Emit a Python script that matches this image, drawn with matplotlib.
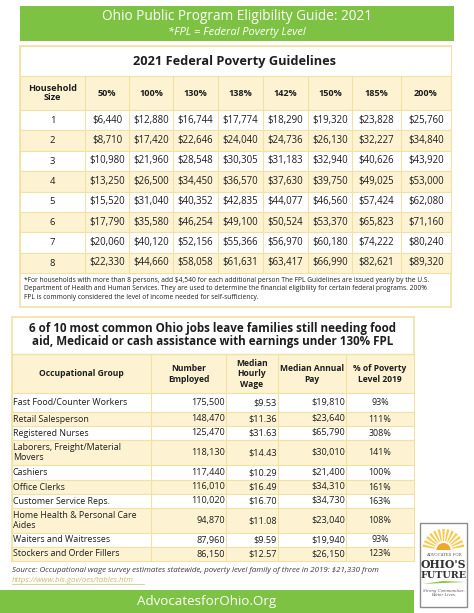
import matplotlib
matplotlib.use("Agg")
import matplotlib.pyplot as plt
from matplotlib.patches import Rectangle, Wedge, Polygon

plt.rcParams['font.family'] = ['Open Sans', 'DejaVu Sans']

# ---- data ----
household_size = [1, 2, 3, 4, 5, 6, 7, 8]
fpl_levels = ['50%', '100%', '130%', '138%', '142%', '150%', '185%', '200%']
fpl_50 = [6440, 8710, 10980, 13250, 15520, 17790, 20060, 22330]
fpl_100 = [12880, 17420, 21960, 26500, 31040, 35580, 40120, 44660]
fpl_130 = [16744, 22646, 28548, 34450, 40352, 46254, 52156, 58058]
fpl_138 = [17774, 24040, 30305, 36570, 42835, 49100, 55366, 61631]
fpl_142 = [18290, 24736, 31183, 37630, 44077, 50524, 56970, 63417]
fpl_150 = [19320, 26130, 32940, 39750, 46560, 53370, 60180, 66990]
fpl_185 = [23828, 32227, 40626, 49025, 57424, 65823, 74222, 82621]
fpl_200 = [25760, 34840, 43920, 53000, 62080, 71160, 80240, 89320]

jobs = ['Fast Food/Counter Workers', 'Retail Salesperson', 'Registered Nurses',
        'Laborers, Freight/Material\nMovers', 'Cashiers', 'Office Clerks',
        'Customer Service Reps.', 'Home Health & Personal Care\nAides',
        'Waiters and Waitresses', 'Stockers and Order Fillers']
employed = [175500, 148470, 125470, 118130, 117440, 116010, 110020, 94870, 87960, 86150]
hourly_wage = [9.53, 11.36, 31.63, 14.43, 10.29, 16.49, 16.70, 11.08, 9.59, 12.57]
annual_pay = [19810, 23640, 65790, 30010, 21400, 34310, 34730, 23040, 19940, 26150]
pct_poverty = [93, 111, 308, 141, 100, 161, 163, 108, 93, 123]

GREEN = '#7dc242'
CREAM = '#fdf3d3'
LINE = '#f0e2a4'
TXT = '#1e1e1e'

fig = plt.figure(figsize=(4.74, 6.13), dpi=100)
ax = fig.add_axes([0, 0, 1, 1])
ax.set_xlim(0, 474)
ax.set_ylim(613, 0)
ax.axis('off')


def box(x0, y0, x1, y1, fc, ec=LINE, lw=0.8, z=1):
    ax.add_patch(Rectangle((x0, y0), x1 - x0, y1 - y0, fc=fc, ec=ec, lw=lw, zorder=z))


# top banner
box(20, 6, 454, 41, GREEN, ec='none')
ax.text(237, 17, 'Ohio Public Program Eligibility Guide: 2021', color='white',
        fontsize=9.8, ha='center', va='center')
ax.text(237, 32, '*FPL = Federal Poverty Level', color='white', fontsize=8,
        style='italic', ha='center', va='center')

# ---- table 1 ----
t1_cols = [20, 85, 129, 173, 218, 263, 308, 352, 401, 451]
box(20, 46, 451, 307, 'white', lw=1.2)
box(20, 46, 451, 76, 'white')
ax.text(235, 61, '2021 Federal Poverty Guidelines', fontsize=9.2, fontweight='bold',
        color=TXT, ha='center', va='center')
box(20, 76, 451, 110, CREAM)
hdr = ['Household\nSize'] + fpl_levels
for i, h in enumerate(hdr):
    xc = (t1_cols[i] + t1_cols[i + 1]) / 2
    ax.text(xc, 93, h, fontsize=6.6, fontweight='bold', color=TXT, ha='center',
            va='center', linespacing=1.1)
cols = [fpl_50, fpl_100, fpl_130, fpl_138, fpl_142, fpl_150, fpl_185, fpl_200]
rh = 20.4
for r, n in enumerate(household_size):
    y0 = 110 + r * rh
    box(20, y0, 451, y0 + rh, CREAM if r % 2 else 'white')
    ax.text((t1_cols[0] + t1_cols[1]) / 2, y0 + rh / 2, str(n), fontsize=6.8,
            color=TXT, ha='center', va='center')
    for c, col in enumerate(cols):
        xc = (t1_cols[c + 1] + t1_cols[c + 2]) / 2
        ax.text(xc, y0 + rh / 2, '${:,}'.format(col[r]), fontsize=6.9,
                color=TXT, ha='center', va='center')
for x in t1_cols[1:-1]:
    ax.plot([x, x], [76, 110 + 8 * rh], color=LINE, lw=0.8, zorder=2)
ax.text(24, 289, '*For households with more than 8 persons, add $4,540 for each additional person '
        'The FPL Guidelines are issued yearly by the U.S.\nDepartment of Health and Human Services. '
        'They are used to determine the financial eligibility for certain federal programs. 200%\n'
        'FPL is commonly considered the level of income needed for self-sufficiency.',
        fontsize=4.8, color=TXT, ha='left', va='center', linespacing=1.25)

# ---- table 2 ----
t2_cols = [12, 151, 226, 278, 346, 414]
box(12, 317, 414, 561, 'white', lw=1.2)
ax.text(213, 335, '6 of 10 most common Ohio jobs leave families still needing food\n'
        'aid, Medicaid or cash assistance with earnings under 130% FPL',
        fontsize=8.4, fontweight='bold', color=TXT, ha='center', va='center',
        linespacing=1.05)
box(12, 354, 414, 393, CREAM)
hdr2 = ['Occupational Group', 'Number\nEmployed', 'Median\nHourly\nWage',
        'Median Annual\nPay', '% of Poverty\nLevel 2019']
for i, h in enumerate(hdr2):
    xc = (t2_cols[i] + t2_cols[i + 1]) / 2
    ax.text(xc, 374, h, fontsize=6.1, fontweight='bold', color=TXT, ha='center',
            va='center', linespacing=1.15)
row_h = [19, 14, 14, 25, 15, 14, 14, 25, 14, 14]
y0 = 393
for r, job in enumerate(jobs):
    y1 = y0 + row_h[r]
    yc = (y0 + y1) / 2
    box(12, y0, 414, y1, CREAM if r % 2 else 'white')
    ax.text(13, yc, job, fontsize=6.4, color=TXT, ha='left', va='center', linespacing=1.0)
    ax.text(225, yc, '{:,}'.format(employed[r]), fontsize=6.6, color=TXT, ha='right', va='center')
    ax.text(277, yc, '${:.2f}'.format(hourly_wage[r]), fontsize=6.6, color=TXT, ha='right', va='center')
    ax.text(345, yc, '${:,}'.format(annual_pay[r]), fontsize=6.6, color=TXT, ha='right', va='center')
    ax.text(380, yc, '{}%'.format(pct_poverty[r]), fontsize=6.4, color=TXT, ha='center', va='center')
    y0 = y1
for x in t2_cols[1:-1]:
    ax.plot([x, x], [354, 561], color=LINE, lw=0.8, zorder=2)
ax.plot([12, 414], [354, 354], color=LINE, lw=1.0, zorder=2)

ax.text(12, 571, 'Source: Occupational wage survey estimates statewide, poverty level family of '
        'three in 2019: $21,330 from', fontsize=5.7, style='italic', color='#3a3a3a',
        ha='left', va='center')
ax.text(12, 580, 'https://www.bls.gov/oes/tables.htm', fontsize=5.7, style='italic',
        color='#c9bb6a', ha='left', va='center')
ax.plot([12, 144], [584, 584], color='#c9bb6a', lw=0.5)

# bottom banner
box(0, 590, 414, 613, GREEN, ec='none')
ax.text(207, 602, 'AdvocatesforOhio.Org', color='white', fontsize=9.6, ha='center', va='center')

# logo (y axis is inverted, so the upper half of the sun is 180..360 deg)
box(420, 523, 467, 607, 'white', ec='#8c8c8c', lw=1.0, z=3)
for k in range(13):
    a = 192 + k * 13
    ax.add_patch(Wedge((443.5, 550), 21, a - 3.5, a + 3.5, width=12, fc='#f8c94a',
                       ec='none', zorder=4))
ax.add_patch(Wedge((443.5, 550), 7, 180, 360, fc='#f2a52a', ec='none', zorder=5))
ax.text(443.5, 555, 'ADVOCATES FOR', fontsize=2.8, family='DejaVu Serif', color='#555',
        ha='center', va='center', zorder=5)
ax.text(443.5, 564, "OHIO'S", fontsize=7.8, family='DejaVu Serif', fontweight='bold',
        color='#333', ha='center', va='center', zorder=5)
ax.text(443.5, 575, 'FUTURE', fontsize=6.8, family='DejaVu Serif', fontweight='bold',
        color='#333', ha='center', va='center', zorder=5)
ax.add_patch(Polygon([[423, 584], [443, 581], [466, 582], [443, 583]], closed=True,
                     fc='#8cc63f', ec='none', zorder=5))
ax.text(443.5, 593, 'Strong Communities.\nBetter Lives.', fontsize=2.8, style='italic',
        family='DejaVu Serif', color='#555', ha='center', va='center', zorder=5,
        linespacing=1.2)

fig.savefig('out.png', dpi=100)
